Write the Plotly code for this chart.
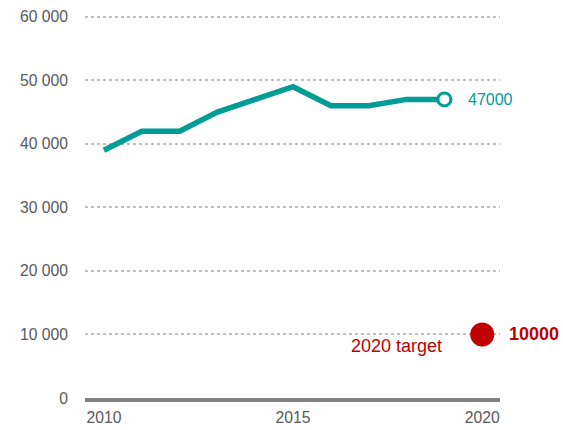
import plotly.graph_objects as go

years = [2010, 2011, 2012, 2013, 2014, 2015, 2016, 2017, 2018, 2019]
values = [39000, 42000, 42000, 45000, 47000, 49000, 46000, 46000, 47000, 47000]
target_year = [2020]
target_value = [10000]
y_ticks = [0, 10000, 20000, 30000, 40000, 50000, 60000]
x_ticks = [2010, 2015, 2020]

TEAL = "#009C96"
RED = "#C00000"

fig = go.Figure()

# main series
fig.add_trace(go.Scatter(
    x=years,
    y=values,
    mode="lines",
    line=dict(color=TEAL, width=5.5),
    hoverinfo="skip",
    showlegend=False,
))

# last point as open circle
fig.add_trace(go.Scatter(
    x=years[-1:],
    y=values[-1:],
    mode="markers",
    marker=dict(size=13, color="white", line=dict(color=TEAL, width=3)),
    showlegend=False,
))

# 2020 target
fig.add_trace(go.Scatter(
    x=target_year,
    y=target_value,
    mode="markers",
    marker=dict(size=24, color=RED),
    showlegend=False,
))

fig.add_annotation(
    x=years[-1], y=values[-1], text=str(values[-1]),
    xshift=22, xanchor="left", showarrow=False,
    font=dict(color=TEAL, size=16),
)
fig.add_annotation(
    x=target_year[0], y=target_value[0], text="<b>%d</b>" % target_value[0],
    xshift=25, xanchor="left", showarrow=False,
    font=dict(color=RED, size=18),
)
fig.add_annotation(
    x=target_year[0], y=target_value[0], text="2020 target",
    xshift=-38, yshift=-12, xanchor="right", showarrow=False,
    font=dict(color=RED, size=18),
)

fig.update_layout(
    width=563,
    height=430,
    margin=dict(l=85, r=63, t=13, b=32),
    plot_bgcolor="white",
    paper_bgcolor="white",
    separators=". ",
    font=dict(family="Liberation Sans, Arial, sans-serif", size=15.7, color="#595959"),
    xaxis=dict(
        range=[2009.5, 2020.47],
        tickvals=x_ticks,
        showgrid=False,
        zeroline=False,
        showline=True,
        linecolor="#808080",
        linewidth=4,
        ticks="",
        ticklabelstandoff=2,
        fixedrange=True,
        automargin=False,
    ),
    yaxis=dict(
        range=[0, 60600],  # a little headroom so the 60 000 gridline is drawn
        tickvals=y_ticks,
        tickformat=",d",
        showgrid=True,
        gridcolor="#BFBFBF",
        gridwidth=2,
        griddash="dot",
        zeroline=False,
        showline=False,
        ticks="",
        ticklabelstandoff=16,
        fixedrange=True,
        automargin=False,
    ),
)

# the page body has a default 8px margin; drop it so the figure sits at 0,0
fig.write_html(
    "out.html",
    config={"displayModeBar": False},
    post_script="document.body.style.margin='0';",
)
